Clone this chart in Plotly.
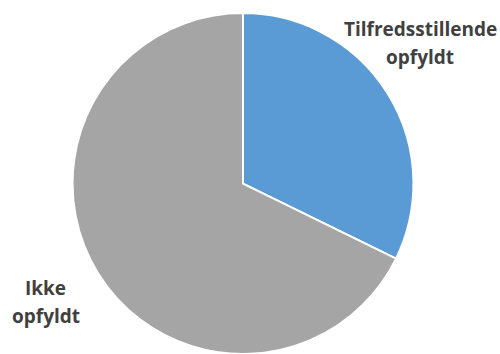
import plotly.graph_objects as go

# Assessment outcome counts
labels = ["Tilfredsstillende opfyldt", "Ikke opfyldt"]
values = [10, 21]
colors = ["#5B9BD5", "#A5A5A5"]

# Slice captions, one entry per text line: (text, x centre px, y centre px)
caption_lines = [
    ("Tilfredsstillende", 420, 29),
    ("opfyldt", 420, 57),
    ("Ikke", 45, 288),
    ("opfyldt", 46, 316),
]

W, H = 500, 354

fig = go.Figure(
    go.Pie(
        labels=labels,
        values=values,
        sort=False,
        direction="clockwise",
        rotation=0,
        marker=dict(colors=colors, line=dict(color="white", width=2)),
        textinfo="none",
        hoverinfo="label+value",
        domain=dict(x=[0.14, 0.832], y=[0.0, 0.963]),
        showlegend=False,
    )
)

label_font = dict(family="Open Sans, Liberation Sans, sans-serif", size=19, color="#404040")

for text, px, py in caption_lines:
    fig.add_annotation(
        text=f"<b>{text}</b>",
        x=px / W, y=1 - py / H, xref="paper", yref="paper",
        xanchor="center", yanchor="middle",
        showarrow=False, align="center", font=label_font,
    )

fig.update_layout(
    width=W,
    height=H,
    margin=dict(l=0, r=0, t=0, b=0),
    paper_bgcolor="white",
    plot_bgcolor="white",
)

fig.write_html("out.html")
